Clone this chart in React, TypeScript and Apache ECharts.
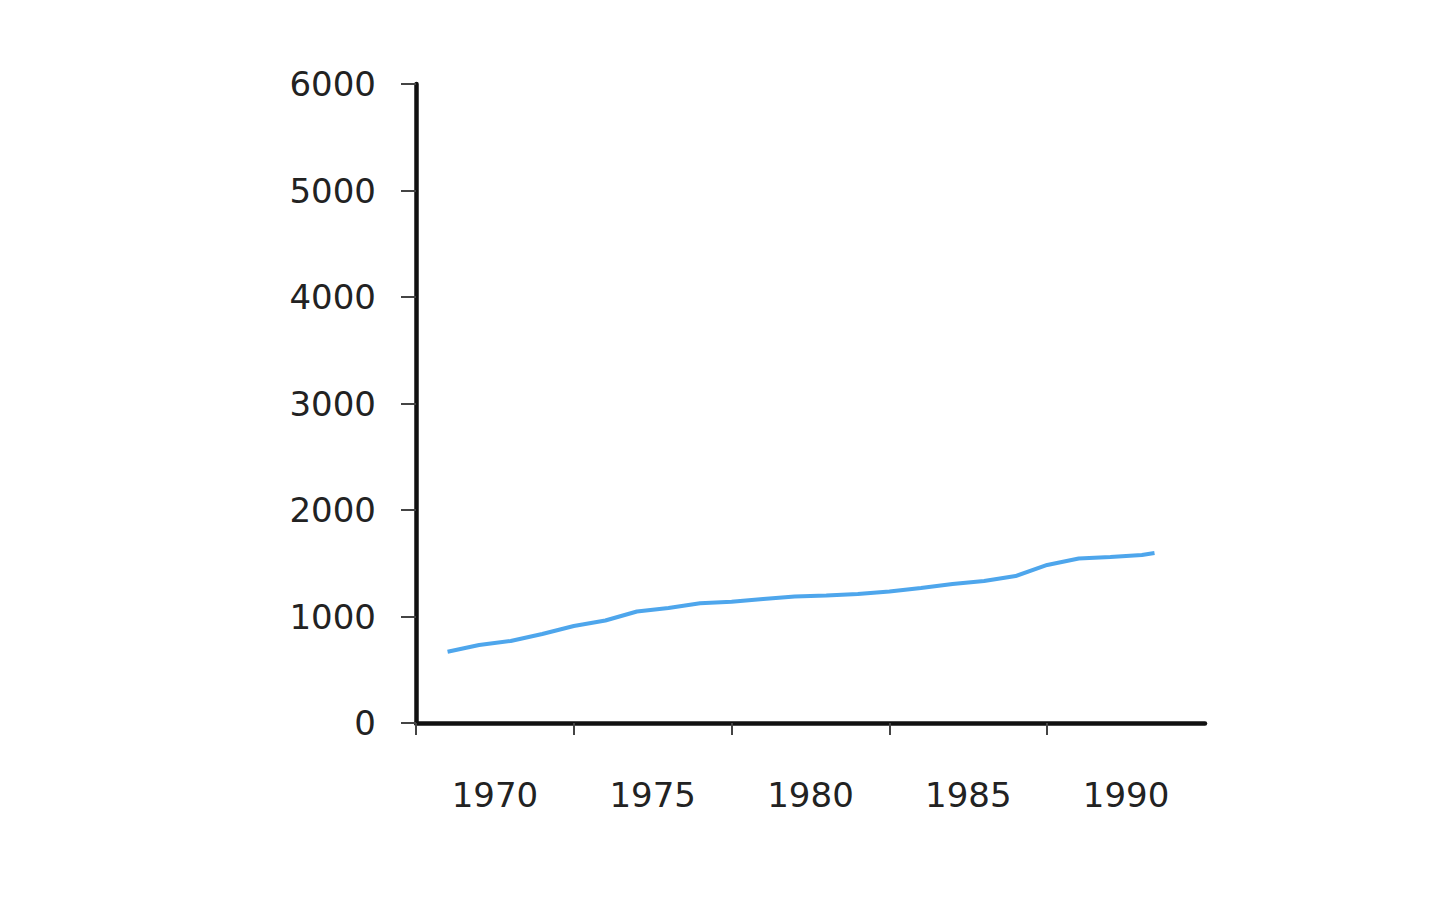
import React, { useEffect, useRef } from "react";
import * as echarts from "echarts";

// Data
const years: number[] = [
  1968.5, 1969.5, 1970.5, 1971.5, 1972.5, 1973.5, 1974.5, 1975.5, 1976.5, 1977.5,
  1978.5, 1979.5, 1980.5, 1981.5, 1982.5, 1983.5, 1984.5, 1985.5, 1986.5, 1987.5,
  1988.5, 1989.5, 1990.5, 1990.9,
];
const values: number[] = [
  669, 732, 770, 836, 911, 962, 1047, 1080, 1124, 1139,
  1164, 1188, 1197, 1211, 1235, 1268, 1305, 1333, 1380, 1484,
  1545, 1559, 1577, 1596,
];
const xLabelYears: number[] = [1970, 1975, 1980, 1985, 1990];
const xTickPositions: number[] = [1967.5, 1972.5, 1977.5, 1982.5, 1987.5];
const yTicks: number[] = [0, 1000, 2000, 3000, 4000, 5000, 6000];

export default function App() {
  const ref = useRef<HTMLDivElement>(null);
  useEffect(() => {
    if (!ref.current) return;
    const chart = echarts.init(ref.current, null, { renderer: "svg" });
    const font = "'DejaVu Sans', Verdana, sans-serif";
    chart.setOption({
      animation: false,
      backgroundColor: "#ffffff",
      grid: { left: 416, right: 235, top: 84, bottom: 175, containLabel: false },
      xAxis: {
        type: "value",
        min: 1967.5,
        max: 1992.5,
        splitLine: { show: false },
        axisLine: { show: true, onZero: false, lineStyle: { color: "#111", width: 4.5 } },
        axisTick: {
          show: true,
          customValues: xTickPositions,
          length: 12,
          inside: false,
          lineStyle: { color: "#444", width: 2 },
        },
        axisLabel: {
          show: true,
          customValues: xLabelYears,
          margin: 55,
          fontSize: 34,
          fontFamily: font,
          color: "#222",
          formatter: (v: number) => String(v),
        },
      },
      yAxis: {
        type: "value",
        min: 0,
        max: 6000,
        interval: 1000,
        splitLine: { show: false },
        axisLine: { show: true, lineStyle: { color: "#111", width: 4.5 } },
        axisTick: { show: true, length: 15, lineStyle: { color: "#444", width: 2 } },
        axisLabel: {
          show: true,
          margin: 40,
          fontSize: 34,
          fontFamily: font,
          color: "#222",
          customValues: yTicks,
          formatter: (v: number) => String(v),
        },
      },
      series: [
        {
          type: "line",
          data: years.map((y, i) => [y, values[i]]),
          showSymbol: false,
          smooth: false,
          lineStyle: { color: "#4ea6ec", width: 4 },
          itemStyle: { color: "#4ea6ec" },
        },
      ],
    });
    return () => chart.dispose();
  }, []);
  return (
    <div
      ref={ref}
      style={{ position: "fixed", left: 0, top: 0, width: 1440, height: 898 }}
    />
  );
}
